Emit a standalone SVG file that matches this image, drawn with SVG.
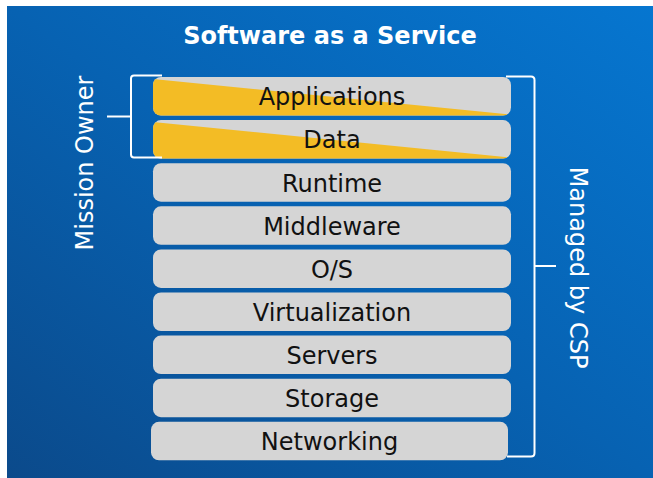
<svg xmlns="http://www.w3.org/2000/svg" width="653" height="478" viewBox="0 0 653 478">
  <defs>
    <linearGradient id="bg" x1="0" y1="1" x2="1" y2="0">
      <stop offset="0" stop-color="#0B4A8B"/>
      <stop offset="0.5" stop-color="#0762B2"/>
      <stop offset="1" stop-color="#0676D0"/>
    </linearGradient>
    <clipPath id="clipApps"><rect x="153" y="77" width="358" height="38.5" rx="8"/></clipPath>
    <clipPath id="clipData"><rect x="153" y="120.1" width="358" height="38.5" rx="8"/></clipPath>
    <style>
      .bar { fill: #D5D5D5; }
      .own { fill: #F3BC25; }
      .lbl { font-family: "DejaVu Sans", Verdana, sans-serif; font-size: 24px; fill: #111111; text-anchor: middle; }
      .side { font-family: "DejaVu Sans", Verdana, sans-serif; font-size: 24px; fill: #FFFFFF; text-anchor: middle; }
      .title { font-family: "DejaVu Sans", Verdana, sans-serif; font-size: 24px; font-weight: bold; fill: #FFFFFF; text-anchor: middle; }
      .brk { fill: none; stroke: #FFFFFF; stroke-width: 2; }
    </style>
  </defs>

  <rect x="0" y="0" width="653" height="478" fill="#FFFFFF"/>
  <rect x="7" y="6" width="646" height="472" fill="url(#bg)"/>

  <text class="title" x="330" y="44">Software as a Service</text>

  <!-- service stack -->
  <g id="applications">
    <rect class="bar" x="153" y="77" width="358" height="38.5" rx="8"/>
    <polygon class="own" clip-path="url(#clipApps)" points="153,79 511,114.5 511,116 153,116"/>
    <text class="lbl" x="332" y="105">Applications</text>
  </g>
  <g id="data">
    <rect class="bar" x="153" y="120.1" width="358" height="38.5" rx="8"/>
    <polygon class="own" clip-path="url(#clipData)" points="153,122 511,157.6 511,159 153,159"/>
    <text class="lbl" x="332" y="148.1">Data</text>
  </g>
  <g id="runtime">
    <rect class="bar" x="153" y="163.2" width="358" height="38.5" rx="8"/>
    <text class="lbl" x="332" y="191.7">Runtime</text>
  </g>
  <g id="middleware">
    <rect class="bar" x="153" y="206.3" width="358" height="38.5" rx="8"/>
    <text class="lbl" x="332" y="234.8">Middleware</text>
  </g>
  <g id="os">
    <rect class="bar" x="153" y="249.4" width="358" height="38.5" rx="8"/>
    <text class="lbl" x="332" y="277.9">O/S</text>
  </g>
  <g id="virtualization">
    <rect class="bar" x="153" y="292.5" width="358" height="38.5" rx="8"/>
    <text class="lbl" x="332" y="321">Virtualization</text>
  </g>
  <g id="servers">
    <rect class="bar" x="153" y="335.6" width="358" height="38.5" rx="8"/>
    <text class="lbl" x="332" y="364.1">Servers</text>
  </g>
  <g id="storage">
    <rect class="bar" x="153" y="378.7" width="358" height="38.5" rx="8"/>
    <text class="lbl" x="332" y="407.2">Storage</text>
  </g>
  <g id="networking">
    <rect class="bar" x="151" y="421.8" width="357" height="38.5" rx="8"/>
    <text class="lbl" x="329.5" y="450.3">Networking</text>
  </g>

  <!-- ownership brackets -->
  <g id="connectors">
    <path class="brk" d="M162,75.5 H134 Q131,75.5 131,78.5 V154.5 Q131,157.5 134,157.5 H162"/>
    <path class="brk" d="M107,116.5 H131"/>
    <path class="brk" d="M506,76.5 H531 Q534.5,76.5 534.5,80 V453 Q534.5,456.5 531,456.5 H507"/>
    <path class="brk" d="M534.5,266 H556"/>
  </g>

  <g id="mission-owner">
    <text class="side" transform="translate(93,163) rotate(-90)">Mission Owner</text>
  </g>
  <g id="managed-by-csp">
    <text class="side" transform="translate(570,267.5) rotate(90)">Managed by CSP</text>
  </g>
</svg>
